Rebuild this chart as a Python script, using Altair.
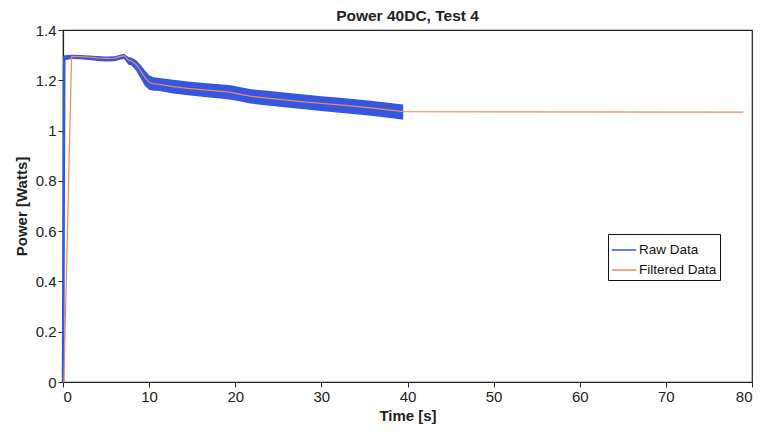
import altair as alt
import pandas as pd

# Filtered data
filt_t = [0, 0.1, 1.0, 2, 3, 4, 5, 6, 6.6, 7.1, 7.6, 8.0, 8.5, 9.0, 9.5, 10.0, 10.5, 11, 12.8, 14.5, 16.7, 18.5, 19.5, 20.5, 21.7, 24.0, 26, 28, 30, 31.8, 34, 36, 38, 39.5, 79]
filt_p = [0, 0, 1.295, 1.294, 1.292, 1.289, 1.287, 1.288, 1.294, 1.298, 1.28, 1.276, 1.262, 1.238, 1.212, 1.192, 1.186, 1.185, 1.175, 1.168, 1.161, 1.156, 1.152, 1.145, 1.137, 1.128, 1.121, 1.114, 1.108, 1.103, 1.096, 1.089, 1.081, 1.075, 1.073]

# Raw data envelope (noise band)
raw_t = [0, 0.15, 1.0, 2, 3, 4, 5, 6, 6.6, 7.1, 7.6, 8.0, 8.5, 9.0, 9.5, 10.0, 10.5, 11, 12.8, 14.5, 16.7, 18.5, 19.5, 20.5, 21.7, 24.0, 26, 28, 30, 31.8, 34, 36, 38, 39.5]
raw_lo = [0, 1.28, 1.285, 1.284, 1.281, 1.277, 1.275, 1.276, 1.282, 1.285, 1.262, 1.258, 1.238, 1.208, 1.178, 1.162, 1.158, 1.158, 1.147, 1.140, 1.133, 1.127, 1.123, 1.117, 1.108, 1.099, 1.092, 1.085, 1.078, 1.072, 1.065, 1.058, 1.050, 1.043]
raw_hi = [0, 1.30, 1.302, 1.301, 1.299, 1.297, 1.295, 1.296, 1.302, 1.306, 1.293, 1.290, 1.280, 1.262, 1.240, 1.220, 1.212, 1.210, 1.202, 1.195, 1.188, 1.183, 1.180, 1.173, 1.165, 1.157, 1.150, 1.143, 1.137, 1.132, 1.125, 1.118, 1.110, 1.104]

x_ticks = [0, 10, 20, 30, 40, 50, 60, 70, 80]
y_ticks = [0, 0.2, 0.4, 0.6, 0.8, 1.0, 1.2, 1.4]

BLUE = "#3556e0"
ORANGE = "#ee8a55"

raw_df = pd.DataFrame({"t": raw_t, "lo": raw_lo, "hi": raw_hi})
raw_df["p"] = (raw_df["lo"] + raw_df["hi"]) / 2
raw_df["series"] = "Raw Data"
filt_df = pd.DataFrame({"t": filt_t, "p": filt_p, "series": "Filtered Data"})

FONT = "Liberation Sans"
xscale = alt.Scale(domain=[0, 80], nice=False, zero=False)
yscale = alt.Scale(domain=[0, 1.4], nice=False)

xaxis = alt.Axis(values=x_ticks, title="Time [s]", grid=False, tickSize=5,
                 labelPadding=2, titlePadding=4, format="d")
yaxis = alt.Axis(values=y_ticks, title="Power [Watts]", grid=False, tickSize=5,
                 labelPadding=2, titlePadding=6, labelExpr="datum.value == 1 ? '1' : (datum.value == 0 ? '0' : format(datum.value, '.1f'))")

color = alt.Color("series:N",
                  scale=alt.Scale(domain=["Raw Data", "Filtered Data"], range=[BLUE, ORANGE]),
                  legend=alt.Legend(title=None, orient="none", legendX=545, legendY=204,
                                    symbolType="stroke", symbolSize=600, symbolStrokeWidth=1.5,
                                    strokeColor="#111", fillColor="white", padding=3,
                                    labelFontSize=13.5, labelFont=FONT, labelColor="#111",
                                    rowPadding=0, labelOffset=2))

band = alt.Chart(raw_df).mark_area(color=BLUE, opacity=1, interpolate="linear").encode(
    x=alt.X("t:Q", scale=xscale, axis=xaxis),
    y=alt.Y("lo:Q", scale=yscale, axis=yaxis),
    y2="hi:Q",
)
raw_line = alt.Chart(raw_df).mark_line(strokeWidth=2.5).encode(
    x=alt.X("t:Q", scale=xscale),
    y=alt.Y("p:Q", scale=yscale),
    color=color,
)
filt_line = alt.Chart(filt_df).mark_line(strokeWidth=1.2).encode(
    x=alt.X("t:Q", scale=xscale),
    y=alt.Y("p:Q", scale=yscale),
    color=color,
)

chart = alt.layer(band, raw_line, filt_line).properties(
    width=689, height=352,
    title=alt.Title("Power 40DC, Test 4", font=FONT, fontSize=15.5, fontWeight="bold",
                    color="#222", offset=-1),
    autosize=alt.AutoSizeParams(type="none"),
    padding={"left": 55, "top": 22, "right": 7, "bottom": 42},
).configure_view(stroke="#222", strokeWidth=1.2).configure_axis(
    labelFont=FONT, titleFont=FONT, labelFontSize=15, titleFontSize=15,
    labelColor="#222", titleColor="#222", domainColor="#222", tickColor="#222",
    titleFontWeight="bold", domainWidth=1.2,
)

chart.save("out.html", embed_options={"renderer": "svg", "actions": False})
